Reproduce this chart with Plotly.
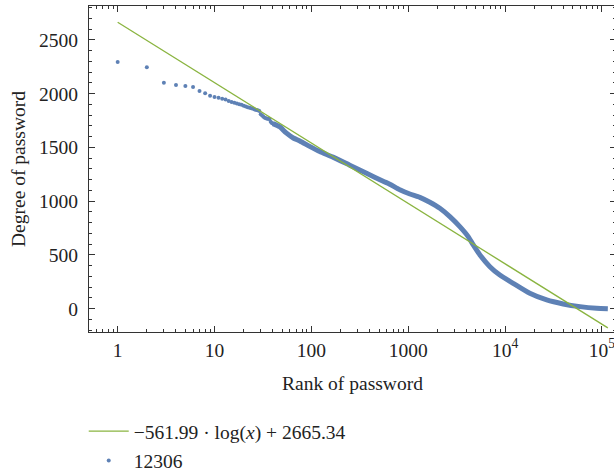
import math
import plotly.graph_objects as go

# ---- data ----
# individually visible points (rank, degree)
dot_rank = [1, 2, 3, 4, 5, 6, 7, 8, 9, 10, 11, 12, 13, 14, 15, 16, 17, 18, 19, 20,
            21, 22, 23, 24, 25, 26, 27, 28, 29, 30, 31, 32, 33, 34, 35, 36, 37, 38, 39, 40]
dot_degree = [2295, 2245, 2102, 2081, 2072, 2062, 2025, 2004, 1981, 1969, 1963, 1954,
              1945, 1932, 1922, 1916, 1909, 1903, 1897, 1889, 1882, 1875, 1869, 1865,
              1860, 1853, 1848, 1845, 1838, 1810, 1798, 1785, 1777, 1772, 1768, 1766,
              1765, 1740, 1728, 1722]

# dense part of the same series (points so close they form a band)
band_rank = [40, 47, 55, 65, 76, 96, 122, 167, 249, 371, 551, 645, 819, 1040, 1318,
             1671, 2120, 2690, 3410, 4160, 4690, 5500, 6970, 8830, 12100, 18000,
             26900, 39800, 59300, 88100, 115000]
band_degree = [1722, 1693, 1635, 1588, 1560, 1510, 1462, 1410, 1335, 1260, 1186, 1158,
               1106, 1067, 1036, 990, 934, 856, 763, 670, 593, 500, 391, 313, 236, 143,
               81, 44, 19, 4, 0]

# fitted model shown in the legend: -561.99*log(x) + 2665.34
fit_slope = -561.99
fit_intercept = 2665.34
fit_rank = [1, 115000]

x_tickvals = [1, 10, 100, 1000, 10000, 100000]
x_ticktext = ["1", "10", "100", "1000", "10<sup>4</sup>", "10<sup>5</sup>"]
x_minor = [m * 10.0 ** e for e in range(-1, 6) for m in range(2, 10)]

fit_degree = [fit_slope * math.log10(r) + fit_intercept for r in fit_rank]

blue = "#5E81B5"
green = "#8AB440"
ink = "#222222"
font_family = "Liberation Serif"
fs = 19.5

fig = go.Figure()
fig.add_trace(go.Scatter(
    x=band_rank, y=band_degree, mode="lines",
    line=dict(color=blue, width=5, shape="spline", smoothing=0.6),
    showlegend=False, hoverinfo="skip"))
fig.add_trace(go.Scatter(
    x=dot_rank, y=dot_degree, mode="markers", name="12306",
    marker=dict(color=blue, size=4), legendrank=2, legendgroup="b"))
fig.add_trace(go.Scatter(
    x=fit_rank, y=fit_degree, mode="lines",
    name="\u2212561.99 \u00b7 log(<i>x</i>) + 2665.34",
    line=dict(color=green, width=1.3), legendrank=1, legendgroup="a"))

# figure is 2px wider than the window: the right frame edge falls just outside, as in the reference
fig.update_layout(
    width=616, height=471,
    margin=dict(l=89, r=0, t=6, b=139, autoexpand=False),
    paper_bgcolor="white", plot_bgcolor="white",
    font=dict(family=font_family, size=fs, color=ink),
    showlegend=True,
    legend=dict(x=-0.01, xanchor="left", y=-0.2454, yanchor="top",
                font=dict(family=font_family, size=fs, color=ink),
                traceorder="grouped", tracegroupgap=1, itemwidth=40,
                bgcolor="rgba(0,0,0,0)"),
    xaxis=dict(
        type="log", range=[-0.296, 5.145],
        tickmode="array", tickvals=x_tickvals, ticktext=x_ticktext,
        ticks="inside", ticklen=6, tickwidth=1, tickcolor="#333",
        showline=True, linecolor="#333", linewidth=1.3, mirror="allticks",
        showgrid=False, zeroline=False, automargin=False,
        ticklabeloverflow="allow",
        minor=dict(tickmode="array", tickvals=x_minor, ticks="inside",
                   ticklen=3, tickwidth=1, tickcolor="#333", showgrid=False),
        title=dict(text="Rank of password", font=dict(family=font_family, size=fs, color=ink),
                   standoff=16),
        tickfont=dict(family=font_family, size=fs, color=ink),
    ),
    yaxis=dict(
        range=[-217, 2816],
        tickmode="linear", tick0=0, dtick=500,
        ticks="inside", ticklen=6, tickwidth=1, tickcolor="#333",
        showline=True, linecolor="#333", linewidth=1.3, mirror="allticks",
        showgrid=False, zeroline=False, automargin=False,
        ticklabeloverflow="allow",
        minor=dict(dtick=100, ticks="inside", ticklen=3, tickwidth=1,
                   tickcolor="#333", showgrid=False),
        title=dict(text="Degree of password", font=dict(family=font_family, size=fs, color=ink),
                   standoff=8),
        tickfont=dict(family=font_family, size=fs, color=ink),
        ticklabelstandoff=6,
    ),
)

# the page's default 8px body margin would shift the figure; remove it
fig.write_html("out.html",
               config={"displayModeBar": False},
               post_script="document.body.style.margin='0';document.body.style.overflow='hidden';")
